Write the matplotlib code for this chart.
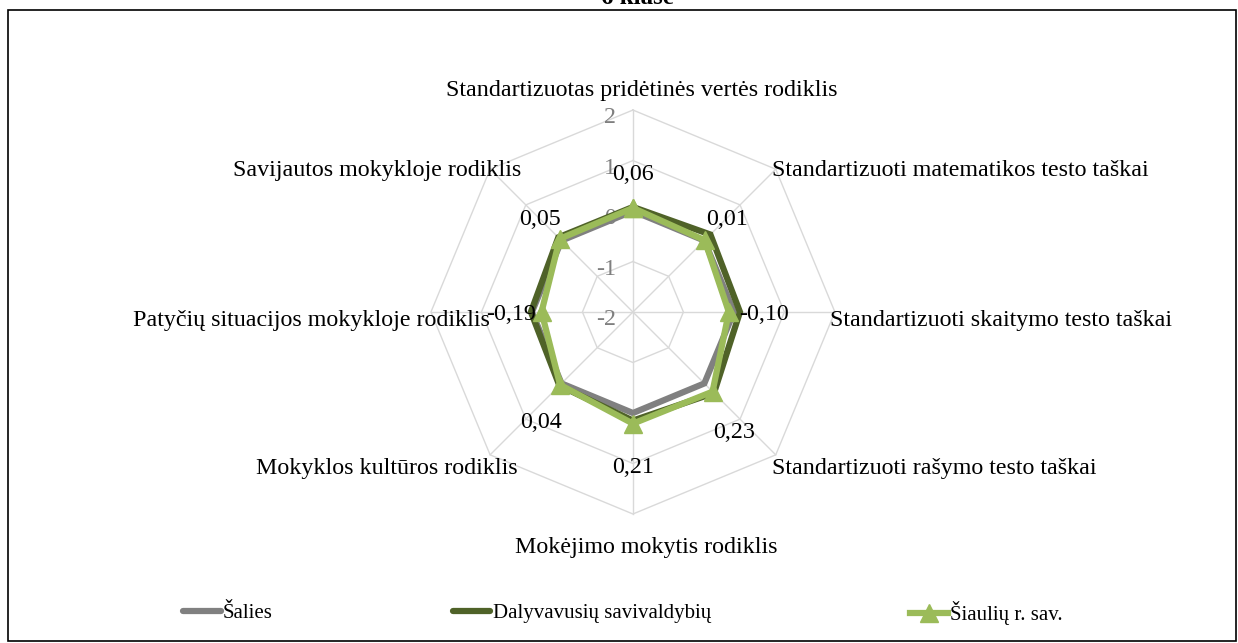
import numpy as np
import matplotlib.pyplot as plt
from matplotlib.lines import Line2D
from matplotlib.patches import Rectangle

plt.rcParams['font.family'] = ['Liberation Serif', 'DejaVu Serif']

W, H, DPI = 1238, 643, 100

categories = [
    'Standartizuotas pridėtinės vertės rodiklis',
    'Standartizuoti matematikos testo taškai',
    'Standartizuoti skaitymo testo taškai',
    'Standartizuoti rašymo testo taškai',
    'Mokėjimo mokytis rodiklis',
    'Mokyklos kultūros rodiklis',
    'Patyčių situacijos mokykloje rodiklis',
    'Savijautos mokykloje rodiklis',
]
series_names = ['Šalies', 'Dalyvavusių savivaldybių', 'Šiaulių r. sav.']
salies = [0.00, 0.00, 0.00, 0.00, 0.00, 0.00, 0.00, 0.00]
dalyvavusiu = [0.08, 0.17, 0.12, 0.27, 0.15, 0.06, 0.02, 0.09]
siauliu = [0.06, 0.01, -0.10, 0.23, 0.21, 0.04, -0.19, 0.05]
r_ticks = [-2, -1, 0, 1, 2]
title = '6 klasė'

colors = ['#808080', '#4F6228', '#9BBB59']
grid_color = '#D9D9D9'
fs = 17.3


def pt(px):
    # pixel offsets -> points at the output dpi
    return px * 72 / DPI


fig = plt.figure(figsize=(W / DPI, H / DPI), dpi=DPI)
ax = fig.add_axes([0.3481, 0.2006, 0.3263, 0.6283], projection='polar')
ax.set_theta_zero_location('N')
ax.set_theta_direction(-1)
ax.set_ylim(r_ticks[0], r_ticks[-1])
ax.set_axis_off()

theta = np.linspace(0, 2 * np.pi, len(categories), endpoint=False)
closed = np.append(theta, theta[0])

# octagonal grid and spokes
for lvl in r_ticks[1:]:
    ax.plot(closed, [lvl] * len(closed), color=grid_color, lw=1.0, zorder=1, clip_on=False)
for t in theta:
    ax.plot([t, t], [r_ticks[0], r_ticks[-1]], color=grid_color, lw=1.0, zorder=1, clip_on=False)

# radial scale labels on the vertical spoke
for lvl in r_ticks:
    ax.annotate(str(lvl), xy=(0, lvl), xytext=(pt(-17), pt(-13)), textcoords='offset points',
                ha='right', va='baseline', fontsize=fs, color='#7F7F7F', zorder=2)

# series
for vals, c in zip([salies, dalyvavusiu], colors[:2]):
    ax.plot(closed, np.append(vals, vals[0]), color=c, lw=4.5, zorder=3,
            solid_joinstyle='miter', clip_on=False)
ax.plot(closed, np.append(siauliu, siauliu[0]), color=colors[2], lw=4.5, zorder=4,
        marker='^', markersize=13, solid_joinstyle='miter', clip_on=False)

# value labels for the district series (dx, dy in px, y down)
label_offsets = [(0, -36), (22, -23), (35, 0), (22, 38), (0, 41), (-19, 35), (-30, 0), (-20, -22)]
for t, v, (dx, dy) in zip(theta, siauliu, label_offsets):
    ax.annotate(f'{v:.2f}'.replace('.', ','), xy=(t, v),
                xytext=(pt(dx), pt(-dy - 8)), textcoords='offset points',
                ha='center', va='baseline', fontsize=fs, color='black', zorder=5)

# category names around the outer ring
cat_offsets = [(9, -14, 'center'), (-4, 7, 'left'), (-5, 14, 'left'), (-4, 19, 'left'),
               (13, 39, 'center'), (28, 19, 'right'), (59, 14, 'right'), (31, 7, 'right')]
for t, name, (dx, dy, ha) in zip(theta, categories, cat_offsets):
    ax.annotate(name, xy=(t, r_ticks[-1]), xytext=(pt(dx), pt(-dy)), textcoords='offset points',
                ha=ha, va='baseline', fontsize=fs, color='black', zorder=5)

# legend entries spread along the bottom
legend_x = [183, 453, 910]
handles = [
    Line2D([], [], color=colors[0], lw=4.5, solid_capstyle='round'),
    Line2D([], [], color=colors[1], lw=4.5, solid_capstyle='round'),
    Line2D([], [], color=colors[2], lw=4.5, marker='^', markersize=13),
]
for h, name, x in zip(handles, series_names, legend_x):
    fig.legend(handles=[h], labels=[name], loc='center left',
               bbox_to_anchor=(x / W, 1 - 613 / H), frameon=False, fontsize=15,
               handlelength=1.8, handletextpad=0.12, borderpad=0, borderaxespad=0)

fig.text(637 / W, 1 - 4 / H, title, ha='center', va='baseline', fontsize=18, fontweight='bold')
fig.add_artist(Rectangle((8 / W, 2 / H), (1236 - 8) / W, (641 - 10) / H, transform=fig.transFigure,
                         fill=False, ec='black', lw=1.2))

fig.savefig('out.png', dpi=DPI)
